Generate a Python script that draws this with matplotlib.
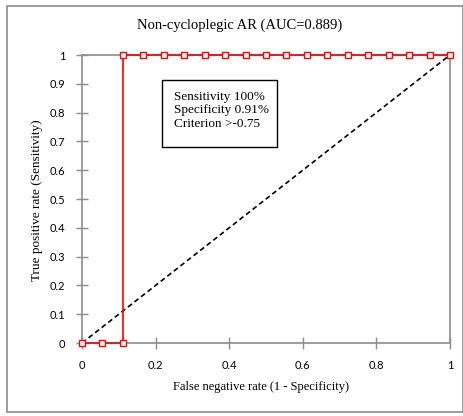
import matplotlib.pyplot as plt
from matplotlib.patches import Rectangle

# ROC curve points (false positive rate, sensitivity)
fpr = [0, 1/18, 2/18, 2/18, 3/18, 4/18, 5/18, 6/18, 7/18, 8/18, 9/18, 10/18,
       11/18, 12/18, 13/18, 14/18, 15/18, 16/18, 17/18, 1]
tpr = [0, 0, 0, 1, 1, 1, 1, 1, 1, 1, 1, 1, 1, 1, 1, 1, 1, 1, 1, 1]
diag = [0, 1]

title = "Non-cycloplegic AR (AUC=0.889)"
box_text = "Sensitivity 100%\nSpecificity 0.91%\nCriterion >-0.75"

serif = ["Liberation Serif", "DejaVu Serif"]
tickfont = "Lato"

fig = plt.figure(figsize=(4.64, 4.16), dpi=100)
W, H = 464, 416

# outer chart border
fig.patches.append(Rectangle((7 / W, 1 - 412 / H), 456 / W, 406 / H,
                             transform=fig.transFigure, fill=False,
                             edgecolor="#8c8c8c", linewidth=1.2))

ax = fig.add_axes([82 / W, 1 - 343 / H, 368 / W, 288 / H])

ax.plot(diag, diag, color="black", linestyle=(0, (3, 2)), linewidth=1.2, zorder=2)
ax.plot(fpr, tpr, color="#ff0000", linewidth=1.2, marker="s", markersize=4,
        markerfacecolor="white", markeredgecolor="#ff0000", markeredgewidth=1,
        clip_on=False, zorder=3)

ax.set_xlim(0, 1)
ax.set_ylim(0, 1)
ax.set_xticks([0, 0.2, 0.4, 0.6, 0.8, 1])
ax.set_xticklabels(["0", "0.2", "0.4", "0.6", "0.8", "1"])
ax.set_yticks([i / 10 for i in range(11)])
ax.set_yticklabels(["0"] + [f"{i / 10:.1f}" for i in range(1, 10)] + ["1"])
ax.tick_params(direction="inout", length=8, width=1, color="#8c8c8c",
               labelsize=8, pad=8)
for lab in ax.get_xticklabels() + ax.get_yticklabels():
    lab.set_family(tickfont)

for s in ax.spines.values():
    s.set_color("#8c8c8c")
    s.set_linewidth(1.2)

fig.text(240 / W, 1 - 25 / H, title, family=serif, fontsize=10.5,
         ha="center", va="center")
fig.text(261 / W, 1 - 387 / H, "False negative rate (1 - Specificity)",
         family=serif, fontsize=9, ha="center", va="center")
fig.text(37 / W, 1 - 200 / H, "True positive rate (Sensitivity)",
         family=serif, fontsize=9.5, ha="center", va="center", rotation=90)

# annotation box
fig.patches.append(Rectangle((162 / W, 1 - 147 / H), 115 / W, 67 / H,
                             transform=fig.transFigure, facecolor="white",
                             edgecolor="black", linewidth=1, zorder=5))
fig.text(174 / W, 1 - 91 / H, box_text, family=serif, fontsize=9.5,
         ha="left", va="top", linespacing=1.15, zorder=6)

fig.savefig("out.png", dpi=100)
